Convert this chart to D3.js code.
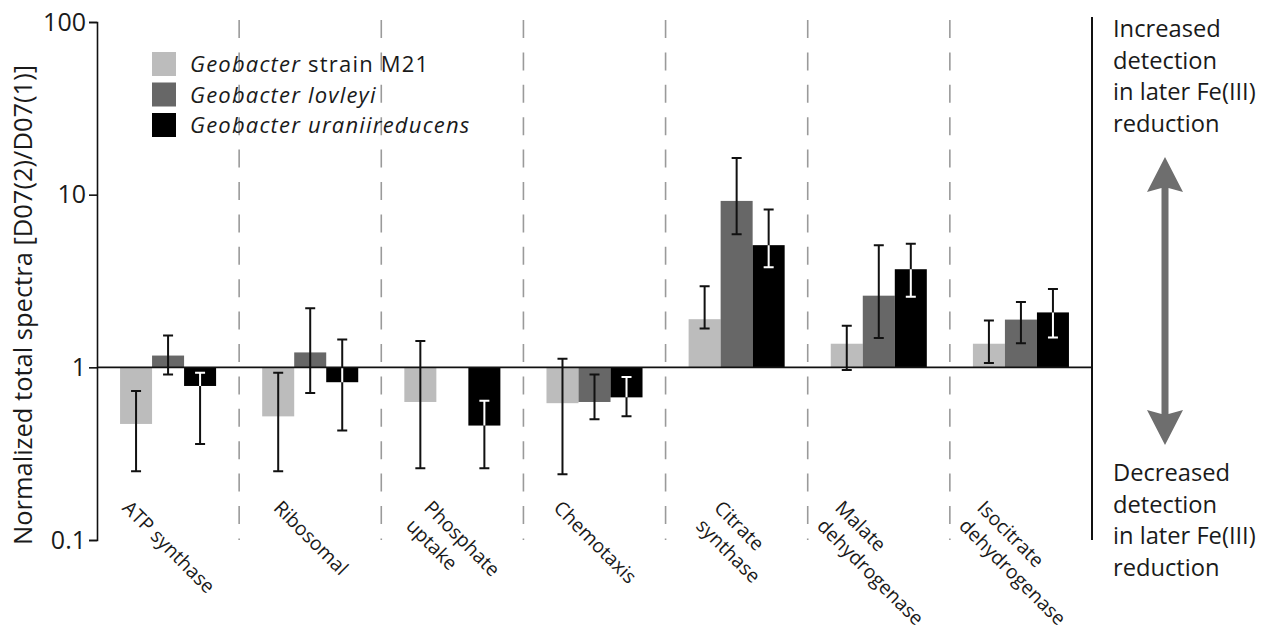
<!DOCTYPE html>
<html>
<head>
<meta charset="utf-8">
<script src="https://cdn.jsdelivr.net/npm/d3@7"></script>
<style>
  body { margin: 0; background: #fff; }
  svg { display: block; font-family: "Open Sans", sans-serif; }
</style>
</head>
<body>
<svg id="chart" width="1272" height="636"></svg>
<script>
// categories and their (wrapped) axis labels
const categories = ['ATP synthase', 'Ribosomal', 'Phosphate uptake', 'Chemotaxis',
  'Citrate synthase', 'Malate dehydrogenase', 'Isocitrate dehydrogenase'];
const categoryLines = [['ATP synthase'], ['Ribosomal'], ['Phosphate', 'uptake'], ['Chemotaxis'],
  ['Citrate', 'synthase'], ['Malate', 'dehydrogenase'], ['Isocitrate', 'dehydrogenase']];

const seriesNames = [['Geobacter', ' strain M21'], ['Geobacter lovleyi', ''], ['Geobacter uraniireducens', '']];
const seriesColors = ['#bcbcbc', '#676767', '#000000'];

// ratio values, lower and upper ends of the error bars (null = not detected)
const m21 = [0.47, 0.52, 0.63, 0.62, 1.9, 1.37, 1.37];
const m21Lo = [0.25, 0.25, 0.26, 0.24, 1.68, 0.965, 1.06];
const m21Hi = [0.73, 0.93, 1.42, 1.12, 2.95, 1.74, 1.87];

const lovleyi = [1.17, 1.22, null, 0.63, 9.2, 2.6, 1.89];
const lovleyiLo = [0.91, 0.71, null, 0.5, 5.9, 1.48, 1.38];
const lovleyiHi = [1.53, 2.2, null, 0.91, 16.3, 5.1, 2.39];

const uraniireducens = [0.78, 0.82, 0.46, 0.67, 5.1, 3.7, 2.08];
const uraniireducensLo = [0.36, 0.43, 0.26, 0.52, 3.8, 2.56, 1.49];
const uraniireducensHi = [0.93, 1.45, 0.64, 0.88, 8.2, 5.2, 2.84];

const yTicks = [0.1, 1, 10, 100];
const yTickLabels = ['0.1', '1', '10', '100'];
const yTitle = 'Normalized total spectra [D07(2)/D07(1)]';
const increasedLines = ['Increased', 'detection', 'in later Fe(III)', 'reduction'];
const decreasedLines = ['Decreased', 'detection', 'in later Fe(III)', 'reduction'];

const plotLeft = 97;
const plotRight = 1092;
const plotTop = 22;
const plotBottom = 540;
const lineHeight = 25.5;

const svg = d3.select('#chart');

const x = d3.scaleBand().domain(categories).range([plotLeft, plotRight]);
const xs = d3.scaleBand().domain([0, 1, 2]).range([0, x.bandwidth()]).paddingInner(0).paddingOuter(0.72);
const y = d3.scaleLog().domain([0.1, 100]).range([plotBottom, plotTop]);

const values = [m21, lovleyi, uraniireducens];
const lows = [m21Lo, lovleyiLo, uraniireducensLo];
const highs = [m21Hi, lovleyiHi, uraniireducensHi];

const rows = [];
categories.forEach((cat, i) => {
  values.forEach((series, s) => {
    if (series[i] == null) return;
    rows.push({ cat, s, i, v: series[i], lo: lows[s][i], hi: highs[s][i] });
  });
});

// dashed separators between categories
svg.append('g')
  .selectAll('line')
  .data(categories.slice(1))
  .join('line')
  .attr('x1', (d) => x(d))
  .attr('x2', (d) => x(d))
  .attr('y1', plotTop - 2)
  .attr('y2', plotBottom)
  .attr('stroke', '#9a9a9a')
  .attr('stroke-width', 1.6)
  .attr('stroke-dasharray', '18,14.4');

const barX = (d) => x(d.cat) + xs(d.s);
const barY = (d) => Math.min(y(d.v), y(1));
const barH = (d) => Math.abs(y(d.v) - y(1));

const defs = svg.append('defs');
defs.selectAll('clipPath')
  .data(rows.filter((d) => d.s === 2))
  .join('clipPath')
  .attr('id', (d) => `clip-${d.i}`)
  .append('rect')
  .attr('x', barX)
  .attr('y', barY)
  .attr('width', xs.bandwidth())
  .attr('height', barH);

svg.append('g')
  .selectAll('rect')
  .data(rows)
  .join('rect')
  .attr('x', barX)
  .attr('y', barY)
  .attr('width', xs.bandwidth())
  .attr('height', barH)
  .attr('fill', (d) => seriesColors[d.s]);

const errPath = (d) => {
  const cx = barX(d) + xs.bandwidth() / 2;
  const cap = 5;
  return `M${cx},${y(d.hi)}V${y(d.lo)}M${cx - cap},${y(d.hi)}H${cx + cap}M${cx - cap},${y(d.lo)}H${cx + cap}`;
};

svg.append('g')
  .selectAll('path')
  .data(rows)
  .join('path')
  .attr('d', errPath)
  .attr('fill', 'none')
  .attr('stroke', '#111')
  .attr('stroke-width', 2);

// error bar parts inside black bars are drawn white
svg.append('g')
  .selectAll('path')
  .data(rows.filter((d) => d.s === 2))
  .join('path')
  .attr('d', errPath)
  .attr('clip-path', (d) => `url(#clip-${d.i})`)
  .attr('fill', 'none')
  .attr('stroke', '#fff')
  .attr('stroke-width', 2);

// baseline at 1 and right border line
svg.append('line')
  .attr('x1', plotLeft).attr('x2', plotRight)
  .attr('y1', y(1)).attr('y2', y(1))
  .attr('stroke', '#111').attr('stroke-width', 1.6);

svg.append('line')
  .attr('x1', plotRight).attr('x2', plotRight)
  .attr('y1', plotTop - 5).attr('y2', plotBottom)
  .attr('stroke', '#111').attr('stroke-width', 2);

// y axis
const yAxis = svg.append('g')
  .attr('transform', `translate(${plotLeft},0)`)
  .call(d3.axisLeft(y).tickValues(yTicks).tickFormat((d, i) => yTickLabels[i])
    .tickSize(8).tickSizeOuter(8).tickPadding(3));
yAxis.select('.domain').attr('stroke', '#111').attr('stroke-width', 1.6);
yAxis.selectAll('.tick line').attr('stroke', '#111').attr('stroke-width', 1.6);
yAxis.selectAll('.tick text')
  .attr('font-family', '"Open Sans", sans-serif')
  .attr('font-size', 25)
  .attr('fill', '#1a1a1a');

svg.append('text')
  .attr('transform', `translate(32,305) rotate(-90)`)
  .attr('text-anchor', 'middle')
  .attr('font-size', 25.5)
  .attr('fill', '#1a1a1a')
  .text(yTitle);

// rotated category labels
categories.forEach((cat, i) => {
  const lines = categoryLines[i];
  const t = svg.append('text')
    .attr('font-size', 19.5)
    .attr('fill', '#1a1a1a');
  lines.forEach((ln, k) => {
    t.append('tspan').attr('x', 0).attr('dy', k === 0 ? 0 : lineHeight).text(ln);
  });
  const w = d3.max(t.selectAll('tspan').nodes(), (n) => n.getComputedTextLength());
  const cx = x(cat) + x.bandwidth() / 2;
  const xTop = cx - 0.354 * w + 0.354 * (lines.length - 1) * lineHeight;
  t.attr('transform', `translate(${xTop - 4},509) rotate(45)`);
});

// legend
const legend = svg.append('g').attr('transform', 'translate(152,52)');
seriesNames.forEach((name, s) => {
  const row = legend.append('g').attr('transform', `translate(0,${s * 30.5})`);
  row.append('rect').attr('width', 24).attr('height', 24).attr('fill', seriesColors[s]);
  const t = row.append('text').attr('x', 38).attr('y', 20)
    .attr('font-size', 22).attr('letter-spacing', 1.2).attr('fill', '#1a1a1a');
  t.append('tspan').attr('font-style', 'italic').text(name[0]);
  if (name[1]) t.append('tspan').text(name[1]);
});

// right-hand annotation
const noteX = 1113;
const drawNote = (lines, y0) => {
  const t = svg.append('text').attr('font-size', 23.7).attr('fill', '#1a1a1a');
  lines.forEach((ln, k) => {
    t.append('tspan').attr('x', noteX).attr('y', y0 + k * 31.5).text(ln);
  });
};
drawNote(increasedLines, 37);
drawNote(decreasedLines, 481);

const ax = 1165, aTop = 157, aBot = 445, head = 35, hw = 18, sw = 3.5;
svg.append('path')
  .attr('d', `M${ax},${aTop}L${ax + hw},${aTop + head}L${ax + sw},${aTop + head - 4}` +
    `L${ax + sw},${aBot - head + 4}L${ax + hw},${aBot - head}L${ax},${aBot}` +
    `L${ax - hw},${aBot - head}L${ax - sw},${aBot - head + 4}L${ax - sw},${aTop + head - 4}` +
    `L${ax - hw},${aTop + head}Z`)
  .attr('fill', '#6e6e6e');
</script>
</body>
</html>
